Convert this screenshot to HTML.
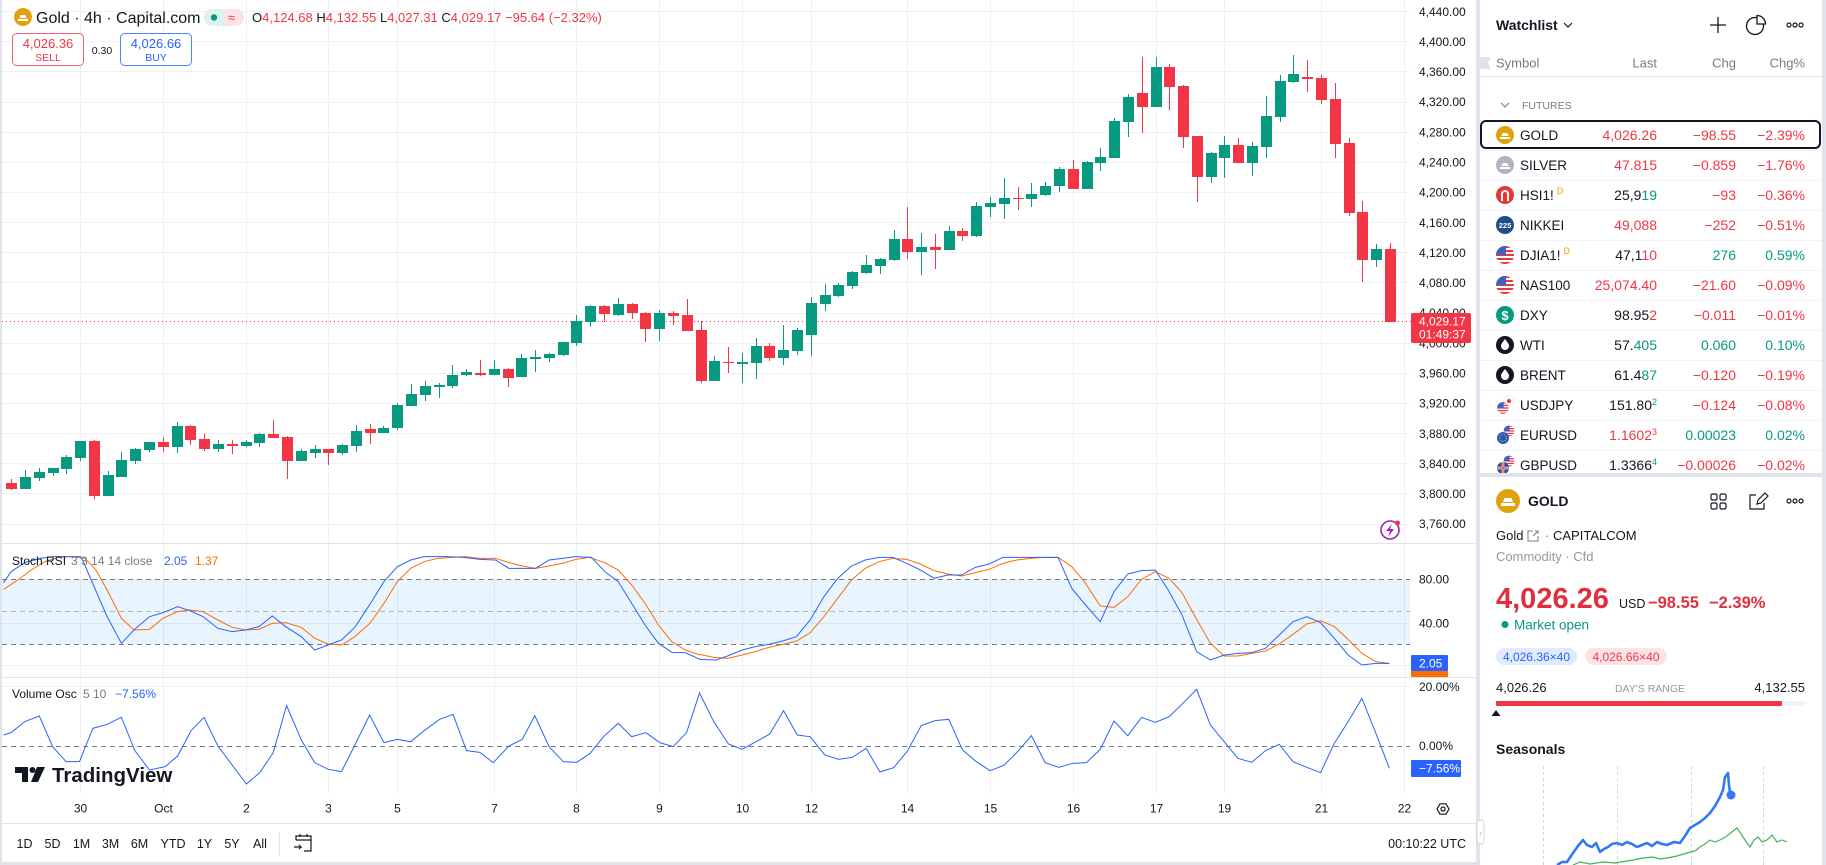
<!DOCTYPE html>
<html><head><meta charset="utf-8"><style>
html,body{margin:0;padding:0;background:#e0e3eb;width:1826px;height:865px;overflow:hidden}
svg{display:block;font-family:"Liberation Sans",sans-serif}
</style></head><body>
<svg width="1826" height="865" viewBox="0 0 1826 865" xmlns="http://www.w3.org/2000/svg">
<defs>
<clipPath id="cc"><circle r="9"/></clipPath>
<g id="usf"><g clip-path="url(#cc)"><rect x="-9" y="-9" width="18" height="18" fill="#fff"/><g fill="#e53945"><rect x="-9" y="-9" width="18" height="2"/><rect x="-9" y="-5" width="18" height="2"/><rect x="-9" y="-1" width="18" height="2"/><rect x="-9" y="3" width="18" height="2"/><rect x="-9" y="7" width="18" height="2"/></g><rect x="-9" y="-9" width="10" height="9" fill="#3a63c4"/></g></g>
</defs>
<rect width="1826" height="865" fill="#e0e3eb"/>
<rect x="2" y="0" width="1474" height="862" fill="#fff"/>
<rect x="1480" y="0" width="342" height="473" fill="#fff"/>
<rect x="1480" y="477" width="342" height="388" fill="#fff"/>

<!-- grid -->
<g stroke="#eef0f4" stroke-width="1" fill="none">
<path d="M2 11.5H1410M2 41.5H1410M2 71.5H1410M2 102.5H1410M2 132.5H1410M2 162.5H1410M2 192.5H1410M2 222.5H1410M2 252.5H1410M2 282.5H1410M2 313.5H1410M2 343.5H1410M2 373.5H1410M2 403.5H1410M2 433.5H1410M2 463.5H1410M2 493.5H1410M2 524.5H1410M2 623.5H1410M2 665.5H1410M2 686.5H1410"/>
<path d="M80.5 0V793M163.5 0V793M246.5 0V793M328.5 0V793M397.5 0V793M494.5 0V793M576.5 0V793M659.5 0V793M742.5 0V793M811.5 0V793M907.5 0V793M990.5 0V793M1073.5 0V793M1156.5 0V793M1224.5 0V793M1321.5 0V793M1404.5 0V793"/>
</g>

<!-- stoch band -->
<rect x="2" y="579" width="1408" height="65" fill="#2196f3" fill-opacity="0.1"/>
<path d="M2 579.5H1410M2 644.5H1410" stroke="#787b86" stroke-dasharray="5,4"/>
<path d="M2 611.5H1410" stroke="#b2b5be" stroke-dasharray="5,4"/>
<path d="M2 746.5H1410" stroke="#787b86" stroke-dasharray="5,4"/>

<!-- separators -->
<path d="M2 543.5H1476M2 677.5H1476M2 823.5H1476" stroke="#e0e3eb"/>

<!-- price line -->
<path d="M2 321.5H1411" stroke="#F23645" stroke-dasharray="1,3"/>

<!-- candles red -->
<g fill="#F23645">
<rect x="6" y="483" width="11" height="6"/><rect x="11" y="479" width="1" height="11"/>
<rect x="89" y="441" width="11" height="55"/><rect x="94" y="440" width="1" height="59"/>
<rect x="158" y="442" width="11" height="5"/><rect x="163" y="437" width="1" height="15"/>
<rect x="185" y="426" width="11" height="14"/><rect x="190" y="425" width="1" height="20"/>
<rect x="199" y="439" width="11" height="10"/><rect x="204" y="434" width="1" height="17"/>
<rect x="227" y="444" width="11" height="2"/><rect x="232" y="440" width="1" height="14"/>
<rect x="268" y="434" width="11" height="4"/><rect x="273" y="420" width="1" height="18"/>
<rect x="282" y="437" width="11" height="24"/><rect x="287" y="436" width="1" height="43"/>
<rect x="323" y="449" width="11" height="4"/><rect x="328" y="449" width="1" height="16"/>
<rect x="365" y="429" width="11" height="4"/><rect x="370" y="424" width="1" height="20"/>
<rect x="475" y="373" width="11" height="2"/><rect x="480" y="360" width="1" height="16"/>
<rect x="503" y="369" width="11" height="9"/><rect x="508" y="368" width="1" height="19"/>
<rect x="599" y="306" width="11" height="8"/><rect x="604" y="305" width="1" height="17"/>
<rect x="627" y="304" width="11" height="9"/><rect x="632" y="303" width="1" height="16"/>
<rect x="640" y="313" width="11" height="16"/><rect x="645" y="312" width="1" height="30"/>
<rect x="668" y="313" width="11" height="3"/><rect x="673" y="311" width="1" height="14"/>
<rect x="682" y="315" width="11" height="16"/><rect x="687" y="299" width="1" height="32"/>
<rect x="696" y="330" width="11" height="51"/><rect x="701" y="321" width="1" height="62"/>
<rect x="723" y="362" width="11" height="1"/><rect x="728" y="347" width="1" height="26"/>
<rect x="764" y="346" width="11" height="12"/><rect x="769" y="343" width="1" height="18"/>
<rect x="902" y="239" width="11" height="13"/><rect x="907" y="207" width="1" height="52"/>
<rect x="930" y="247" width="11" height="3"/><rect x="935" y="234" width="1" height="35"/>
<rect x="957" y="231" width="11" height="5"/><rect x="962" y="228" width="1" height="13"/>
<rect x="1013" y="198" width="11" height="1"/><rect x="1018" y="187" width="1" height="23"/>
<rect x="1068" y="169" width="11" height="20"/><rect x="1073" y="160" width="1" height="29"/>
<rect x="1137" y="93" width="11" height="14"/><rect x="1142" y="57" width="1" height="76"/>
<rect x="1164" y="67" width="11" height="20"/><rect x="1169" y="64" width="1" height="46"/>
<rect x="1178" y="86" width="11" height="51"/><rect x="1183" y="85" width="1" height="63"/>
<rect x="1192" y="136" width="11" height="41"/><rect x="1197" y="136" width="1" height="66"/>
<rect x="1233" y="145" width="11" height="18"/><rect x="1238" y="138" width="1" height="25"/>
<rect x="1302" y="77" width="11" height="2"/><rect x="1307" y="60" width="1" height="32"/>
<rect x="1316" y="78" width="11" height="22"/><rect x="1321" y="75" width="1" height="29"/>
<rect x="1330" y="99" width="11" height="45"/><rect x="1335" y="83" width="1" height="75"/>
<rect x="1344" y="143" width="11" height="70"/><rect x="1349" y="138" width="1" height="78"/>
<rect x="1357" y="212" width="11" height="48"/><rect x="1362" y="201" width="1" height="81"/>
<rect x="1385" y="249" width="11" height="73"/><rect x="1390" y="243" width="1" height="79"/>
</g>
<!-- candles green -->
<g fill="#089981">
<rect x="20" y="477" width="11" height="12"/><rect x="25" y="470" width="1" height="19"/>
<rect x="34" y="472" width="11" height="6"/><rect x="39" y="468" width="1" height="13"/>
<rect x="48" y="468" width="11" height="5"/><rect x="53" y="468" width="1" height="8"/>
<rect x="61" y="457" width="11" height="12"/><rect x="66" y="455" width="1" height="19"/>
<rect x="75" y="441" width="11" height="17"/><rect x="80" y="441" width="1" height="20"/>
<rect x="103" y="475" width="11" height="21"/><rect x="108" y="471" width="1" height="25"/>
<rect x="116" y="460" width="11" height="17"/><rect x="121" y="452" width="1" height="25"/>
<rect x="130" y="449" width="11" height="12"/><rect x="135" y="448" width="1" height="16"/>
<rect x="144" y="442" width="11" height="8"/><rect x="149" y="442" width="1" height="10"/>
<rect x="172" y="426" width="11" height="21"/><rect x="177" y="422" width="1" height="31"/>
<rect x="213" y="444" width="11" height="5"/><rect x="218" y="440" width="1" height="12"/>
<rect x="241" y="442" width="11" height="4"/><rect x="246" y="440" width="1" height="7"/>
<rect x="254" y="434" width="11" height="9"/><rect x="259" y="433" width="1" height="14"/>
<rect x="296" y="451" width="11" height="10"/><rect x="301" y="449" width="1" height="12"/>
<rect x="310" y="449" width="11" height="4"/><rect x="315" y="445" width="1" height="13"/>
<rect x="337" y="445" width="11" height="8"/><rect x="342" y="444" width="1" height="11"/>
<rect x="351" y="431" width="11" height="15"/><rect x="356" y="425" width="1" height="27"/>
<rect x="378" y="428" width="11" height="5"/><rect x="383" y="426" width="1" height="7"/>
<rect x="392" y="405" width="11" height="23"/><rect x="397" y="403" width="1" height="27"/>
<rect x="406" y="394" width="11" height="12"/><rect x="411" y="384" width="1" height="22"/>
<rect x="420" y="386" width="11" height="9"/><rect x="425" y="381" width="1" height="20"/>
<rect x="434" y="385" width="11" height="2"/><rect x="439" y="383" width="1" height="15"/>
<rect x="447" y="375" width="11" height="11"/><rect x="452" y="365" width="1" height="23"/>
<rect x="461" y="372" width="11" height="3"/><rect x="466" y="369" width="1" height="7"/>
<rect x="489" y="369" width="11" height="6"/><rect x="494" y="360" width="1" height="15"/>
<rect x="516" y="358" width="11" height="19"/><rect x="521" y="354" width="1" height="23"/>
<rect x="530" y="357" width="11" height="2"/><rect x="535" y="350" width="1" height="22"/>
<rect x="544" y="354" width="11" height="4"/><rect x="549" y="353" width="1" height="9"/>
<rect x="558" y="342" width="11" height="13"/><rect x="563" y="342" width="1" height="14"/>
<rect x="571" y="321" width="11" height="22"/><rect x="576" y="315" width="1" height="31"/>
<rect x="585" y="306" width="11" height="16"/><rect x="590" y="305" width="1" height="22"/>
<rect x="613" y="304" width="11" height="11"/><rect x="618" y="298" width="1" height="18"/>
<rect x="654" y="313" width="11" height="16"/><rect x="659" y="310" width="1" height="31"/>
<rect x="709" y="361" width="11" height="20"/><rect x="714" y="356" width="1" height="25"/>
<rect x="737" y="362" width="11" height="2"/><rect x="742" y="353" width="1" height="30"/>
<rect x="751" y="346" width="11" height="17"/><rect x="756" y="338" width="1" height="41"/>
<rect x="778" y="350" width="11" height="8"/><rect x="783" y="325" width="1" height="40"/>
<rect x="792" y="330" width="11" height="21"/><rect x="797" y="328" width="1" height="27"/>
<rect x="806" y="303" width="11" height="32"/><rect x="811" y="297" width="1" height="59"/>
<rect x="820" y="295" width="11" height="9"/><rect x="825" y="284" width="1" height="27"/>
<rect x="833" y="285" width="11" height="11"/><rect x="838" y="283" width="1" height="14"/>
<rect x="847" y="272" width="11" height="14"/><rect x="852" y="271" width="1" height="18"/>
<rect x="861" y="265" width="11" height="8"/><rect x="866" y="255" width="1" height="19"/>
<rect x="875" y="259" width="11" height="7"/><rect x="880" y="258" width="1" height="16"/>
<rect x="889" y="239" width="11" height="21"/><rect x="894" y="230" width="1" height="31"/>
<rect x="916" y="247" width="11" height="5"/><rect x="921" y="233" width="1" height="42"/>
<rect x="944" y="231" width="11" height="19"/><rect x="949" y="226" width="1" height="24"/>
<rect x="971" y="206" width="11" height="30"/><rect x="976" y="202" width="1" height="35"/>
<rect x="985" y="203" width="11" height="4"/><rect x="990" y="197" width="1" height="20"/>
<rect x="999" y="198" width="11" height="6"/><rect x="1004" y="178" width="1" height="41"/>
<rect x="1026" y="194" width="11" height="5"/><rect x="1031" y="183" width="1" height="24"/>
<rect x="1040" y="186" width="11" height="9"/><rect x="1045" y="182" width="1" height="14"/>
<rect x="1054" y="169" width="11" height="17"/><rect x="1059" y="167" width="1" height="25"/>
<rect x="1082" y="162" width="11" height="27"/><rect x="1087" y="161" width="1" height="28"/>
<rect x="1095" y="157" width="11" height="6"/><rect x="1100" y="148" width="1" height="23"/>
<rect x="1109" y="121" width="11" height="37"/><rect x="1114" y="118" width="1" height="40"/>
<rect x="1123" y="97" width="11" height="25"/><rect x="1128" y="94" width="1" height="43"/>
<rect x="1151" y="67" width="11" height="40"/><rect x="1156" y="57" width="1" height="50"/>
<rect x="1206" y="153" width="11" height="24"/><rect x="1211" y="152" width="1" height="31"/>
<rect x="1219" y="145" width="11" height="13"/><rect x="1224" y="136" width="1" height="42"/>
<rect x="1247" y="146" width="11" height="17"/><rect x="1252" y="142" width="1" height="34"/>
<rect x="1261" y="116" width="11" height="31"/><rect x="1266" y="96" width="1" height="62"/>
<rect x="1275" y="81" width="11" height="36"/><rect x="1280" y="75" width="1" height="47"/>
<rect x="1288" y="74" width="11" height="8"/><rect x="1293" y="55" width="1" height="28"/>
<rect x="1371" y="249" width="11" height="11"/><rect x="1376" y="244" width="1" height="23"/>
</g>

<!-- indicators left half -->
<g transform="translate(0,540) scale(0.4464,0.33333)" fill="none">
<polyline vector-effect="non-scaling-stroke" stroke="#ff6d00" stroke-width="1" points="8,148 40,120 70,90 100,65 130,52 160,50 190,55 215,90 240,150 272,235 300,270 335,268 365,235 398,215 425,210 455,215 488,240 520,262 550,270 580,268 610,250 640,248 675,262 705,295 735,312 765,315 795,290 830,248 860,190 890,125 920,85 950,65 980,55 1040,50 1075,55 1110,55 1140,68 1170,78 1200,85 1260,70 1290,58 1320,52 1355,68 1385,90 1415,135 1445,190 1475,255 1505,305 1535,330 1568,345"/>
<polyline vector-effect="non-scaling-stroke" stroke="#2962ff" stroke-width="1" points="8,128 25,95 55,68 90,55 120,50 180,50 185,60 240,230 272,310 300,270 335,230 365,218 398,200 425,212 455,230 488,265 520,275 550,270 580,260 610,228 640,260 675,290 705,330 735,315 765,300 795,262 830,190 860,125 890,80 920,60 950,50 1000,50 1040,52 1075,58 1110,60 1140,85 1170,85 1200,85 1230,60 1260,55 1290,50 1325,52 1355,95 1385,125 1415,190 1445,255 1475,310 1505,337 1535,338 1568,358"/>
<polyline vector-effect="non-scaling-stroke" stroke="#2962ff" stroke-width="1" points="8,585 25,578 55,545 88,528 118,620 148,665 178,665 208,565 240,553 272,532 302,632 335,690 370,680 398,648 428,572 457,532 488,618 520,675 552,732 582,698 612,638 642,497 675,600 705,668 735,688 765,695 795,615 828,525 860,608 890,598 920,605 950,572 985,538 1015,523 1045,632 1075,637 1105,668 1140,618 1170,598 1198,527 1230,620 1262,665 1292,667 1322,640 1352,590 1385,550 1415,590 1447,578 1478,608 1508,620 1538,578 1568,455"/>
</g>
<!-- indicators right half -->
<g transform="translate(700,540) scale(0.459,0.33333)" fill="none">
<polyline vector-effect="non-scaling-stroke" stroke="#ff6d00" stroke-width="1" points="0,343 30,352 60,355 92,345 120,335 150,322 180,313 210,303 240,278 270,230 300,175 330,120 360,85 390,65 420,55 450,58 480,72 510,92 540,102 570,108 600,98 630,88 660,70 690,60 720,55 750,52 780,52 810,80 840,130 872,198 902,202 932,170 962,118 992,95 1022,115 1050,158 1082,238 1112,310 1142,348 1172,348 1202,340 1232,333 1262,312 1292,283 1322,252 1352,242 1382,260 1412,298 1442,340 1472,365 1502,370"/>
<polyline vector-effect="non-scaling-stroke" stroke="#2962ff" stroke-width="1" points="0,358 35,360 60,348 92,330 120,320 150,313 180,303 210,290 240,240 270,170 300,115 330,78 360,60 390,52 420,52 450,70 480,90 510,115 540,105 570,105 600,82 630,72 660,52 690,52 780,52 810,145 840,195 872,245 902,155 932,102 962,92 992,90 1020,150 1050,225 1082,335 1112,360 1142,345 1172,340 1202,338 1232,325 1262,285 1292,245 1322,230 1352,248 1382,295 1412,345 1442,375 1472,370 1502,370"/>
<polyline vector-effect="non-scaling-stroke" stroke="#2962ff" stroke-width="1" points="0,462 30,545 62,612 92,628 122,605 152,582 182,512 212,585 240,590 272,645 302,658 332,652 362,625 392,696 422,683 452,633 482,557 512,542 542,538 572,630 602,665 632,692 662,676 692,635 722,587 752,668 782,682 812,670 842,668 872,628 902,543 932,587 962,532 992,547 1022,530 1052,490 1082,448 1112,555 1142,605 1172,655 1202,667 1232,632 1262,613 1292,665 1322,682 1352,698 1382,610 1412,545 1442,475 1472,578 1502,685"/>
</g>

<!-- watermark -->
<g fill="#131722">
<path d="M15 767h13v15h-6v-9h-7z"/>
<circle cx="32.5" cy="770" r="3"/>
<path d="M37 767h8l-7 15h-7z"/>
<text x="52" y="782" font-size="20.5" font-weight="bold">TradingView</text>
</g>

<!-- lightning icon -->
<circle cx="1390" cy="530" r="9" fill="#fff" stroke="#9c27b0" stroke-width="1.6"/>
<path d="M1392 524l-6 7h4l-2 6 6-8h-4z" fill="#9c27b0"/>
<circle cx="1397.5" cy="523" r="2.5" fill="#F23645"/>

<!-- legend top -->
<circle cx="23" cy="17" r="9" fill="#E1A210"/>
<path d="M18 21h10v-2h-10zM19.5 18h7l-1-3h-5z" fill="#fff"/>
<text x="36" y="23" font-size="16" fill="#131722">Gold · 4h · Capital.com</text>
<rect x="204" y="9" width="40" height="17" rx="8.5" fill="#fbe3e8"/>
<path d="M212.5 9h11v17h-11a8.5 8.5 0 0 1 0-17z" fill="#dcf2ee"/>
<circle cx="214" cy="17.5" r="3.2" fill="#089981"/>
<text x="231.5" y="22" font-size="13" fill="#F23645" text-anchor="middle">≈</text>
<text x="252" y="22" font-size="13" fill="#F23645"><tspan fill="#131722">O</tspan>4,124.68 <tspan fill="#131722">H</tspan>4,132.55 <tspan fill="#131722">L</tspan>4,027.31 <tspan fill="#131722">C</tspan>4,029.17 −95.64 (−2.32%)</text>
<rect x="12.5" y="33.5" width="71" height="32" rx="4" fill="#fff" stroke="#F23645" stroke-opacity="0.8"/>
<text x="48" y="48" font-size="13" fill="#F23645" text-anchor="middle">4,026.36</text>
<text x="48" y="61" font-size="10.5" fill="#F23645" text-anchor="middle">SELL</text>
<text x="102" y="54" font-size="10.5" fill="#131722" text-anchor="middle">0.30</text>
<rect x="120.5" y="33.5" width="71" height="32" rx="4" fill="#fff" stroke="#2962ff" stroke-opacity="0.8"/>
<text x="156" y="48" font-size="13" fill="#2962ff" text-anchor="middle">4,026.66</text>
<text x="156" y="61" font-size="10.5" fill="#2962ff" text-anchor="middle">BUY</text>

<!-- indicator legends -->
<text y="565" font-size="12" fill="#131722"><tspan x="12">Stoch RSI</tspan><tspan x="71" fill="#787b86">3 3 14 14 close</tspan><tspan x="164" fill="#2962ff">2.05</tspan><tspan x="195" fill="#ff6d00">1.37</tspan></text>
<text y="698" font-size="12" fill="#131722"><tspan x="12">Volume Osc</tspan><tspan x="83" fill="#787b86">5 10</tspan><tspan x="115" fill="#2962ff">−7.56%</tspan></text>

<!-- price axis -->
<g font-size="12" fill="#131722">
<text x="1419" y="16">4,440.00</text><text x="1419" y="46">4,400.00</text><text x="1419" y="76">4,360.00</text><text x="1419" y="106">4,320.00</text><text x="1419" y="136.5">4,280.00</text><text x="1419" y="166.5">4,240.00</text><text x="1419" y="196.5">4,200.00</text><text x="1419" y="227">4,160.00</text><text x="1419" y="257">4,120.00</text><text x="1419" y="287">4,080.00</text><text x="1419" y="317">4,040.00</text><text x="1419" y="347.5">4,000.00</text><text x="1419" y="377.5">3,960.00</text><text x="1419" y="407.5">3,920.00</text><text x="1419" y="438">3,880.00</text><text x="1419" y="468">3,840.00</text><text x="1419" y="498">3,800.00</text><text x="1419" y="528">3,760.00</text>
<text x="1419" y="583.5">80.00</text><text x="1419" y="627.5">40.00</text>
<text x="1419" y="691">20.00%</text><text x="1419" y="750">0.00%</text>
</g>
<rect x="1411" y="313" width="60" height="30" rx="2" fill="#F23645"/>
<text x="1419" y="325.5" font-size="12" fill="#fff">4,029.17</text>
<text x="1419" y="338.5" font-size="12" fill="#fff">01:49:37</text>
<rect x="1411" y="655" width="37" height="16" rx="1" fill="#2962ff"/>
<rect x="1411" y="671" width="37" height="6" fill="#ff6d00"/>
<text x="1419" y="667.5" font-size="12" fill="#fff">2.05</text>
<rect x="1411" y="760" width="50" height="17" rx="1" fill="#2962ff"/>
<text x="1419" y="772.5" font-size="12" fill="#fff">−7.56%</text>

<!-- time axis -->
<g font-size="12" fill="#131722" text-anchor="middle">
<text x="80.5" y="812.5">30</text><text x="163.5" y="812.5">Oct</text><text x="246.5" y="812.5">2</text><text x="328.5" y="812.5">3</text><text x="397.5" y="812.5">5</text><text x="494.5" y="812.5">7</text><text x="576.5" y="812.5">8</text><text x="659.5" y="812.5">9</text><text x="742.5" y="812.5">10</text><text x="811.5" y="812.5">12</text><text x="907.5" y="812.5">14</text><text x="990.5" y="812.5">15</text><text x="1073.5" y="812.5">16</text><text x="1156.5" y="812.5">17</text><text x="1224.5" y="812.5">19</text><text x="1321.5" y="812.5">21</text><text x="1404.5" y="812.5">22</text>
</g>
<!-- gear -->
<path d="M1437 809l3-5.2h6l3 5.2-3 5.2h-6z" fill="none" stroke="#131722" stroke-width="1.2"/>
<circle cx="1443" cy="809" r="2" fill="none" stroke="#131722" stroke-width="1.2"/>

<!-- bottom toolbar -->
<g font-size="12.5" fill="#131722" text-anchor="middle">
<text x="24.5" y="848">1D</text><text x="52.5" y="848">5D</text><text x="81.5" y="848">1M</text><text x="110.5" y="848">3M</text><text x="139.5" y="848">6M</text><text x="173" y="848">YTD</text><text x="204.5" y="848">1Y</text><text x="232" y="848">5Y</text><text x="260" y="848">All</text>
</g>
<path d="M279.5 832V855" stroke="#e0e3eb"/>
<g fill="none" stroke="#131722" stroke-width="1.2">
<path d="M296 840V836h15v15h-7M296 840h15M300 834v3M307 834v3M294 847h7l-2-2M301 847l-2 2"/>
</g>
<text x="1466" y="848" font-size="12.5" fill="#131722" text-anchor="end">00:10:22 UTC</text>
<rect x="1477" y="820" width="7" height="24" rx="3" fill="#fff" stroke="#d1d4dc"/>
<text x="1480.5" y="836" font-size="9" fill="#b2b5be" text-anchor="middle">›</text>

<!-- WATCHLIST -->
<text x="1496" y="30" font-size="14" font-weight="bold" fill="#131722">Watchlist</text>
<path d="M1564 23l4 4 4-4" fill="none" stroke="#131722" stroke-width="1.2"/>
<path d="M1718 17v16M1710 25h16" stroke="#131722" stroke-width="1.3"/>
<circle cx="1755" cy="26" r="8.5" fill="none" stroke="#131722" stroke-width="1.3"/>
<path d="M1755 26v-8.5a8.5 8.5 0 0 1 8.5 8.5z" fill="#fff" stroke="#131722" stroke-width="1.3" transform="translate(2,-2)"/>
<g fill="none" stroke="#131722" stroke-width="1.2"><circle cx="1789" cy="25" r="2"/><circle cx="1795" cy="25" r="2"/><circle cx="1801" cy="25" r="2"/></g>

<path d="M1480 57h11l-3 6 3 6h-11z" fill="#e0e3eb"/>
<g font-size="13" fill="#787b86">
<text x="1496" y="67.5">Symbol</text>
<text x="1657" y="67.5" text-anchor="end">Last</text>
<text x="1736" y="67.5" text-anchor="end">Chg</text>
<text x="1805" y="67.5" text-anchor="end">Chg%</text>
</g>
<path d="M1480 76.5H1822" stroke="#e0e3eb"/>
<path d="M1501 103l4 4 4-4" fill="none" stroke="#787b86" stroke-width="1.1"/>
<text x="1522" y="109" font-size="10.5" fill="#787b86">FUTURES</text>

<g stroke="#f0f3fa"><path d="M1480 150.5H1822M1480 180.5H1822M1480 210.5H1822M1480 240.5H1822M1480 270.5H1822M1480 300.5H1822M1480 330.5H1822M1480 360.5H1822M1480 390.5H1822M1480 420.5H1822M1480 450.5H1822"/></g>

<rect x="1481" y="121" width="339" height="27" rx="5" fill="none" stroke="#131722" stroke-width="2"/>

<!-- icons -->
<circle cx="1505" cy="135" r="9" fill="#E1A210"/><path d="M1500 139h10v-2h-10zM1501.5 136h7l-1-3h-5z" fill="#fff"/>
<circle cx="1505" cy="165" r="9" fill="#b2b5be"/><path d="M1500 169h10v-2h-10zM1501.5 166h7l-1-3h-5z" fill="#fff"/>
<circle cx="1505" cy="195" r="9" fill="#e53935"/><path d="M1501 201v-7a4 4 0 0 1 8 0v7h-2v-7a2 2 0 0 0-4 0v7z" fill="#fff"/>
<circle cx="1505" cy="225" r="9" fill="#1e4d8c"/><text x="1505" y="228" font-size="7.5" font-weight="bold" fill="#fff" text-anchor="middle">225</text>
<use href="#usf" x="1505" y="255"/>
<use href="#usf" x="1505" y="285"/>
<circle cx="1505" cy="315" r="9" fill="#089981"/><text x="1505" y="320" font-size="13" font-weight="bold" fill="#fff" text-anchor="middle">$</text>
<circle cx="1505" cy="345" r="9" fill="#131722"/><path d="M1505 339c-3 4-4 5-4 7a4 4 0 0 0 8 0c0-2-1-3-4-7z" fill="#fff"/>
<circle cx="1505" cy="375" r="9" fill="#131722"/><path d="M1505 369c-3 4-4 5-4 7a4 4 0 0 0 8 0c0-2-1-3-4-7z" fill="#fff"/>
<circle cx="1509" cy="401" r="5.5" fill="#fff" stroke="#eee"/><circle cx="1509" cy="401" r="2" fill="#e53935"/>
<g transform="translate(1503,408) scale(0.65)"><use href="#usf"/></g>
<g transform="translate(1509,431) scale(0.6)"><use href="#usf"/></g>
<circle cx="1503" cy="438" r="6" fill="#2b58b8"/><circle cx="1503" cy="438" r="3.5" fill="none" stroke="#f5c400" stroke-dasharray="1,1.5"/>
<g transform="translate(1509,461) scale(0.6)"><use href="#usf"/></g>
<circle cx="1503" cy="468" r="6" fill="#2b4b9b"/><path d="M1497 468h12M1503 462v12" stroke="#fff" stroke-width="2.5"/><path d="M1497 468h12M1503 462v12" stroke="#e53935" stroke-width="1.2"/>

<!-- names -->
<g font-size="13.5" fill="#131722">
<text x="1520" y="140">GOLD</text>
<text x="1520" y="170">SILVER</text>
<text x="1520" y="200">HSI1!<tspan font-size="9" fill="#f59e0b" dx="3" dy="-6">D</tspan></text>
<text x="1520" y="230">NIKKEI</text>
<text x="1520" y="260">DJIA1!<tspan font-size="9" fill="#f59e0b" dx="3" dy="-6">D</tspan></text>
<text x="1520" y="290">NAS100</text>
<text x="1520" y="320">DXY</text>
<text x="1520" y="350">WTI</text>
<text x="1520" y="380">BRENT</text>
<text x="1520" y="410">USDJPY</text>
<text x="1520" y="440">EURUSD</text>
<text x="1520" y="470">GBPUSD</text>
</g>
<!-- Last -->
<g font-size="14" fill="#131722" text-anchor="end">
<text x="1657" y="140" fill="#F23645">4,026.26</text>
<text x="1657" y="170" fill="#F23645">47.815</text>
<text x="1657" y="200">25,9<tspan fill="#089981">19</tspan></text>
<text x="1657" y="230" fill="#F23645">49,088</text>
<text x="1657" y="260">47,1<tspan fill="#F23645">10</tspan></text>
<text x="1657" y="290" fill="#F23645">25,074.40</text>
<text x="1657" y="320">98.95<tspan fill="#F23645">2</tspan></text>
<text x="1657" y="350">57.<tspan fill="#089981">405</tspan></text>
<text x="1657" y="380">61.4<tspan fill="#089981">87</tspan></text>
<text x="1657" y="410">151.80<tspan fill="#089981" font-size="9" dy="-5">2</tspan></text>
<text x="1657" y="440" fill="#F23645">1.1602<tspan font-size="9" dy="-5">3</tspan></text>
<text x="1657" y="470">1.3366<tspan fill="#089981" font-size="9" dy="-5">4</tspan></text>
</g>
<!-- Chg -->
<g font-size="14" fill="#F23645" text-anchor="end">
<text x="1736" y="140">−98.55</text>
<text x="1736" y="170">−0.859</text>
<text x="1736" y="200">−93</text>
<text x="1736" y="230">−252</text>
<text x="1736" y="260" fill="#089981">276</text>
<text x="1736" y="290">−21.60</text>
<text x="1736" y="320">−0.011</text>
<text x="1736" y="350" fill="#089981">0.060</text>
<text x="1736" y="380">−0.120</text>
<text x="1736" y="410">−0.124</text>
<text x="1736" y="440" fill="#089981">0.00023</text>
<text x="1736" y="470">−0.00026</text>
</g>
<g font-size="14" fill="#F23645" text-anchor="end">
<text x="1805" y="140">−2.39%</text>
<text x="1805" y="170">−1.76%</text>
<text x="1805" y="200">−0.36%</text>
<text x="1805" y="230">−0.51%</text>
<text x="1805" y="260" fill="#089981">0.59%</text>
<text x="1805" y="290">−0.09%</text>
<text x="1805" y="320">−0.01%</text>
<text x="1805" y="350" fill="#089981">0.10%</text>
<text x="1805" y="380">−0.19%</text>
<text x="1805" y="410">−0.08%</text>
<text x="1805" y="440" fill="#089981">0.02%</text>
<text x="1805" y="470">−0.02%</text>
</g>
<rect x="1480" y="473" width="342" height="4" fill="#e0e3eb"/>

<!-- DETAIL -->
<circle cx="1508" cy="501" r="12" fill="#E1A210"/>
<path d="M1501 506h14v-3h-14zM1503 502h10l-1.5-4h-7z" fill="#fff"/>
<text x="1528" y="506" font-size="14" font-weight="bold" fill="#131722">GOLD</text>
<g fill="none" stroke="#131722" stroke-width="1.2">
<rect x="1711" y="494" width="6" height="6" rx="1.5"/><rect x="1720" y="494" width="6" height="6" rx="1.5"/><rect x="1711" y="503" width="6" height="6" rx="1.5"/><rect x="1720" y="503" width="6" height="6" rx="1.5"/>
<path d="M1756 495h-6v14h14v-6M1757 504l1-4 7-7 3 3-7 7z"/>
<circle cx="1789" cy="501" r="2"/><circle cx="1795" cy="501" r="2"/><circle cx="1801" cy="501" r="2"/>
</g>
<text x="1496" y="540" font-size="13" fill="#131722">Gold</text>
<path d="M1533 531h-5v10h10v-5M1533 536l5-5M1535 531h3v3" fill="none" stroke="#787b86" stroke-width="1"/>
<text x="1545" y="540" font-size="13" fill="#787b86">·</text>
<text x="1553" y="540" font-size="13" fill="#131722">CAPITALCOM</text>
<text x="1496" y="561" font-size="13" fill="#9598a1">Commodity · Cfd</text>
<text x="1496" y="608" font-size="29" font-weight="bold" fill="#e0303f">4,026.26</text>
<text x="1619" y="608" font-size="12.5" fill="#131722">USD</text>
<text x="1648" y="608" font-size="16.5" font-weight="bold" fill="#e0303f">−98.55</text>
<text x="1709" y="608" font-size="16.5" font-weight="bold" fill="#e0303f">−2.39%</text>
<circle cx="1505" cy="624.5" r="3.5" fill="#089981"/>
<text x="1514" y="629.5" font-size="13.5" fill="#089981">Market open</text>
<rect x="1496" y="648" width="81" height="17" rx="8.5" fill="#e1ebfd"/>
<text x="1536.5" y="661" font-size="12" fill="#2962ff" text-anchor="middle">4,026.36×40</text>
<rect x="1585" y="648" width="82" height="17" rx="8.5" fill="#fce3e6"/>
<text x="1626" y="661" font-size="12" fill="#F23645" text-anchor="middle">4,026.66×40</text>
<text x="1496" y="692" font-size="13" fill="#131722">4,026.26</text>
<text x="1650" y="692" font-size="10.5" fill="#9598a1" text-anchor="middle">DAY'S RANGE</text>
<text x="1805" y="692" font-size="13" fill="#131722" text-anchor="end">4,132.55</text>
<rect x="1496" y="701" width="309" height="5" rx="2" fill="#f0f3fa"/>
<rect x="1496" y="701" width="286" height="5" rx="1" fill="#F23645"/>
<path d="M1491.5 716h9l-4.5-6z" fill="#131722"/>
<text x="1496" y="754" font-size="14" font-weight="bold" fill="#131722">Seasonals</text>
<path d="M1543.5 766V865M1617.5 766V865M1691.5 766V865M1763.5 766V865" stroke="#d1d4dc" stroke-dasharray="3,3"/>
<polyline fill="none" stroke="#43b05c" stroke-width="1.2" points="1573,865 1580,862 1590,864 1603,862 1615,863 1633,860 1643,858 1653,857 1660,859 1667,858 1677,856 1687,853 1695,851 1700,847 1705,844 1710,840 1715,842 1720,840 1727,836 1733,831 1737,828 1743,837 1747,843 1750,847 1754,840 1758,837 1762,842 1767,840 1772,835 1777,842 1782,840 1787,842"/>
<polyline fill="none" stroke="#3179f5" stroke-width="2.6" stroke-linejoin="round" points="1557,865 1562,862 1567,862 1573,853 1578,846 1583,840 1587,845 1592,847 1596,843 1600,852 1604,849 1608,847 1612,844 1617,843 1622,845 1627,842 1632,844 1637,847 1642,845 1647,843 1652,846 1657,842 1662,844 1667,845 1674,842 1680,843 1685,836 1690,828 1695,825 1700,822 1705,818 1710,813 1715,806 1720,797 1723,790 1725,777 1728,773 1729,785 1730,793"/>
<circle cx="1731" cy="795" r="4.5" fill="#3179f5"/>
</svg>
</body></html>
